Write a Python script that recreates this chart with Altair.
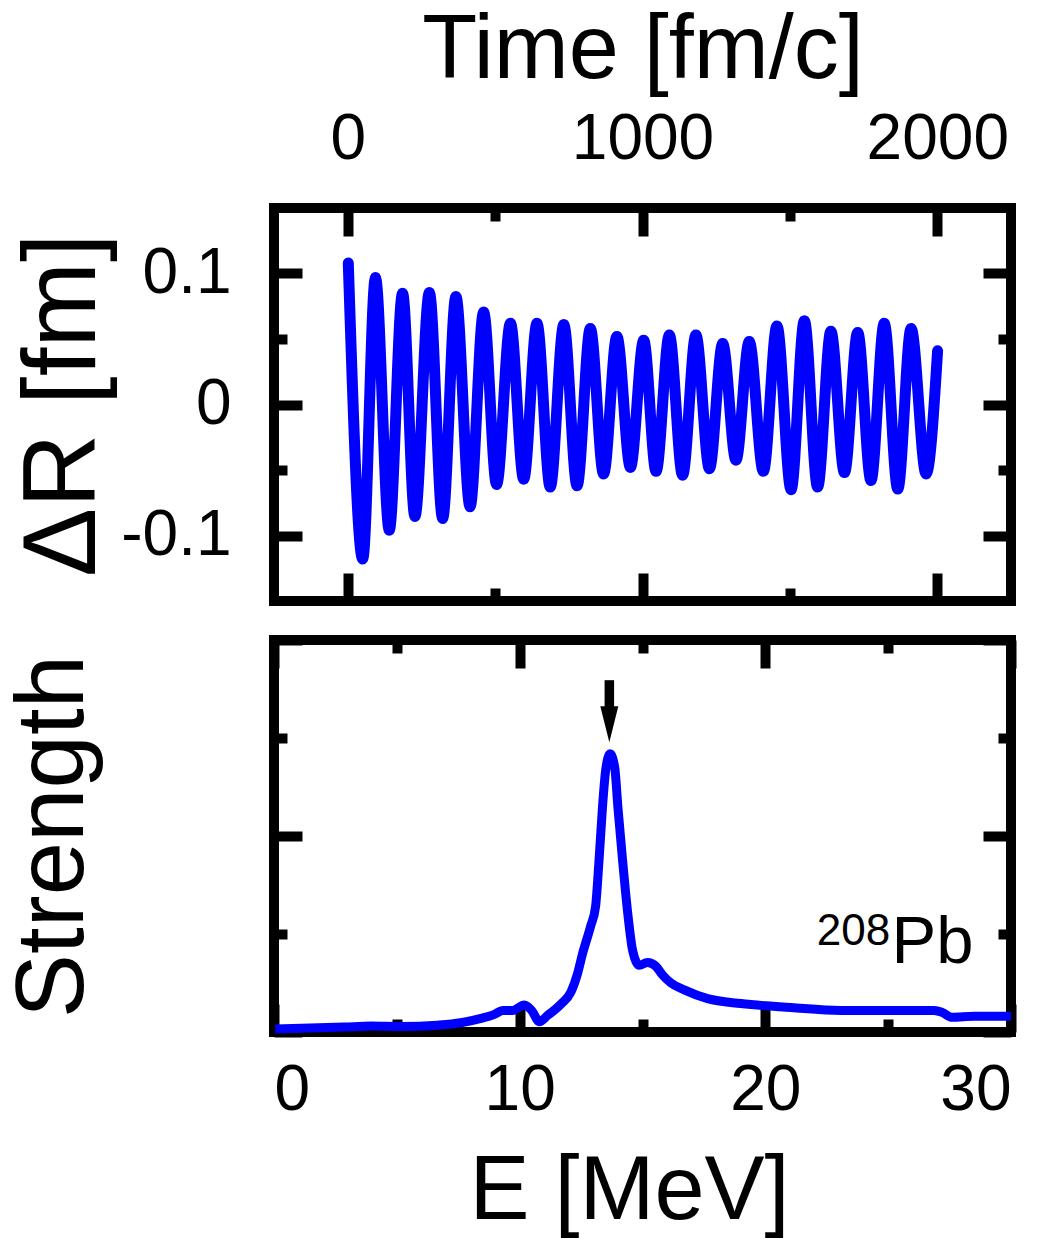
import altair as alt
import pandas as pd

# ---------------- data ----------------
# top panel: extrema of the Delta R(t) oscillation
time_fm = [2, 51, 94, 141, 186, 228, 277, 322, 367, 415, 461, 505, 552, 597, 642,
           687, 733, 778, 823, 868, 913, 959, 1004, 1046, 1091, 1136, 1181, 1227,
           1272, 1317, 1362, 1410, 1456, 1504, 1549, 1594, 1639, 1685, 1730, 1775,
           1820, 1866, 1911, 1962, 2001]
delta_r = [0.108, -0.118, 0.097, -0.096, 0.085, -0.0855, 0.0855, -0.087, 0.0825,
           -0.078, 0.0706, -0.061, 0.062, -0.057, 0.062, -0.063, 0.061, -0.062,
           0.058, -0.053, 0.052, -0.048, 0.049, -0.051, 0.053, -0.054, 0.053,
           -0.049, 0.0465, -0.0425, 0.048, -0.051, 0.060, -0.065, 0.064, -0.063,
           0.056, -0.052, 0.055, -0.058, 0.062, -0.0645, 0.058, -0.053, 0.041]

# bottom panel: strength function
energy = [0.05, 2.86, 3.95, 5.17, 6.66, 7.6, 8.43, 8.97, 9.31, 9.71, 10.19, 10.49,
          10.8, 11.14, 11.68, 12.09, 12.36, 12.56, 12.89, 13.09, 13.23, 13.37,
          13.5, 13.68, 13.87, 14.0, 14.19, 14.4, 14.6, 14.87, 15.2, 15.55, 15.82,
          16.16, 16.7, 17.65, 19.0, 21.04, 23.07, 25.5, 26.87, 27.2, 27.6, 28.5, 30.0]
strength = [0.03, 0.05, 0.06, 0.055, 0.07, 0.095, 0.14, 0.18, 0.22, 0.22, 0.275, 0.22,
            0.105, 0.17, 0.285, 0.41, 0.60, 0.80, 1.08, 1.28, 1.75, 2.29,
            2.67, 2.84, 2.70, 2.29, 1.75, 1.21, 0.83, 0.68, 0.71, 0.67, 0.58,
            0.50, 0.43, 0.34, 0.29, 0.25, 0.22, 0.22, 0.22, 0.20, 0.15, 0.16, 0.16]

# annotations
arrow_E = [13.65]
arrow_top = [3.59]
arrow_mid = [3.30]
arrow_tip = [2.956]
nucleus_text = ["Pb"]
nucleus_E = [28.47]
nucleus_v = [0.70]
mass_text = ["208"]
mass_E = [25.08]
mass_v = [0.886]

# tick values
t_major = [0, 1000, 2000]
t_minor = [500, 1500]
r_major = [-0.1, 0, 0.1]
r_minor = [-0.05, 0.05]
e_major = [0, 10, 20, 30]
e_minor = [5, 15, 25]
s_major = [0, 2, 4]
s_minor = [1, 3]

# ---------------- style ----------------
FONT = "Liberation Sans"
W = 737
H1 = 393
H2 = 392
MAJ = 28
MIN = 13
TW = 10
BLUE = "#0000ff"
LABEL_FS = 64


def axis(orient, values, major, labels=False, title=None, **kw):
    size = MAJ if major else MIN
    d = dict(orient=orient, values=values, tickSize=size, offset=-size,
             tickWidth=TW, tickColor="black", domain=False, grid=False,
             labels=labels, ticks=True, title=title, minExtent=0,
             labelFont=FONT, labelFontSize=LABEL_FS, labelColor="black",
             titleFont=FONT, titleFontWeight="normal", titleColor="black")
    d.update(kw)
    return alt.Axis(**d)


df_top = pd.DataFrame({"t": time_fm, "r": delta_r})
df_bot = pd.DataFrame({"E": energy, "S": strength})
df_arrow = pd.DataFrame({"E": arrow_E, "top": arrow_top, "mid": arrow_mid, "tip": arrow_tip})
df_nuc = pd.DataFrame({"E": nucleus_E, "v": nucleus_v, "txt": nucleus_text})
df_mass = pd.DataFrame({"E": mass_E, "v": mass_v, "txt": mass_text})

xs_top = alt.Scale(domain=[-250, 2250], nice=False, zero=False)
ys_top = alt.Scale(domain=[-0.15, 0.15], nice=False, zero=False)
xs_bot = alt.Scale(domain=[0, 30], nice=False, zero=False)
ys_bot = alt.Scale(domain=[0, 4], nice=False, zero=False)

# ---------------- top panel ----------------
top_line = alt.Chart(df_top).mark_line(
    color=BLUE, strokeWidth=11, interpolate="monotone",
    strokeCap="round", strokeJoin="round"
).encode(
    x=alt.X("t:Q", scale=xs_top,
            axis=axis("top", t_major, True, labels=True, title="Time [fm/c]",
                      labelPadding=37, labelExpr="toString(datum.value)",
                      titleFontSize=90, titlePadding=11)),
    y=alt.Y("r:Q", scale=ys_top,
            axis=axis("left", r_major, True, labels=True, title="ΔR [fm]",
                      labelPadding=43, labelExpr="toString(datum.value)",
                      titleFontSize=103, titlePadding=4)),
)


def helper(df, xf, yf, xs, ys, xa, ya):
    return alt.Chart(df).mark_line(strokeOpacity=0).encode(
        x=alt.X(xf, scale=xs, axis=xa),
        y=alt.Y(yf, scale=ys, axis=ya),
    )


top_h1 = helper(df_top, "t:Q", "r:Q", xs_top, ys_top,
                axis("top", t_minor, False), axis("left", r_minor, False))
top_h2 = helper(df_top, "t:Q", "r:Q", xs_top, ys_top,
                axis("bottom", t_major, True), axis("right", r_major, True))
top_h3 = helper(df_top, "t:Q", "r:Q", xs_top, ys_top,
                axis("bottom", t_minor, False), axis("right", r_minor, False))

top = alt.layer(top_h1, top_h2, top_h3, top_line).resolve_axis(
    x="independent", y="independent"
).properties(width=W, height=H1)

# ---------------- bottom panel ----------------
bot_line = alt.Chart(df_bot).mark_line(
    color=BLUE, strokeWidth=9, interpolate="monotone",
    strokeCap="butt", strokeJoin="round"
).encode(
    x=alt.X("E:Q", scale=xs_bot,
            axis=axis("bottom", e_major, True, labels=True, title="E [MeV]",
                      labelPadding=26, labelExpr="toString(datum.value)",
                      titleFontSize=90, titlePadding=25, titleX=355)),
    y=alt.Y("S:Q", scale=ys_bot,
            axis=axis("left", s_major, True, labels=False, title="Strength",
                      titleFontSize=96, titlePadding=167)),
)

bot_h1 = helper(df_bot, "E:Q", "S:Q", xs_bot, ys_bot,
                axis("top", e_major, True), axis("left", s_minor, False))
bot_h2 = helper(df_bot, "E:Q", "S:Q", xs_bot, ys_bot,
                axis("top", e_minor, False), axis("right", s_major, True))
bot_h3 = helper(df_bot, "E:Q", "S:Q", xs_bot, ys_bot,
                axis("bottom", e_minor, False), axis("right", s_minor, False))

arrow_shaft = alt.Chart(df_arrow).mark_rule(color="black", strokeWidth=9.5).encode(
    x=alt.X("E:Q", scale=xs_bot, axis=None),
    y=alt.Y("top:Q", scale=ys_bot, axis=None),
    y2="mid:Q",
)
arrow_head = alt.Chart(df_arrow).mark_point(
    shape="M-0.5,-1L0.5,-1L0,1Z", size=1296, filled=True, color="black",
    opacity=1, strokeWidth=0, yOffset=-18
).encode(
    x=alt.X("E:Q", scale=xs_bot, axis=None),
    y=alt.Y("tip:Q", scale=ys_bot, axis=None),
)
nuc = alt.Chart(df_nuc).mark_text(
    font=FONT, fontSize=67, align="right", baseline="alphabetic", color="black"
).encode(
    x=alt.X("E:Q", scale=xs_bot, axis=None),
    y=alt.Y("v:Q", scale=ys_bot, axis=None),
    text="txt:N",
)
mass = alt.Chart(df_mass).mark_text(
    font=FONT, fontSize=44, align="right", baseline="alphabetic", color="black"
).encode(
    x=alt.X("E:Q", scale=xs_bot, axis=None),
    y=alt.Y("v:Q", scale=ys_bot, axis=None),
    text="txt:N",
)

bottom = alt.layer(bot_h1, bot_h2, bot_h3, bot_line, arrow_shaft, arrow_head, nuc, mass).resolve_axis(
    x="independent", y="independent"
).properties(width=W, height=H2)

chart = alt.vconcat(
    top, bottom, spacing=19,
    padding={"top": -8, "left": -8, "right": 0, "bottom": 0}
).configure_view(stroke="black", strokeWidth=10)

chart.save("out.html", embed_options={"renderer": "svg", "actions": False})
